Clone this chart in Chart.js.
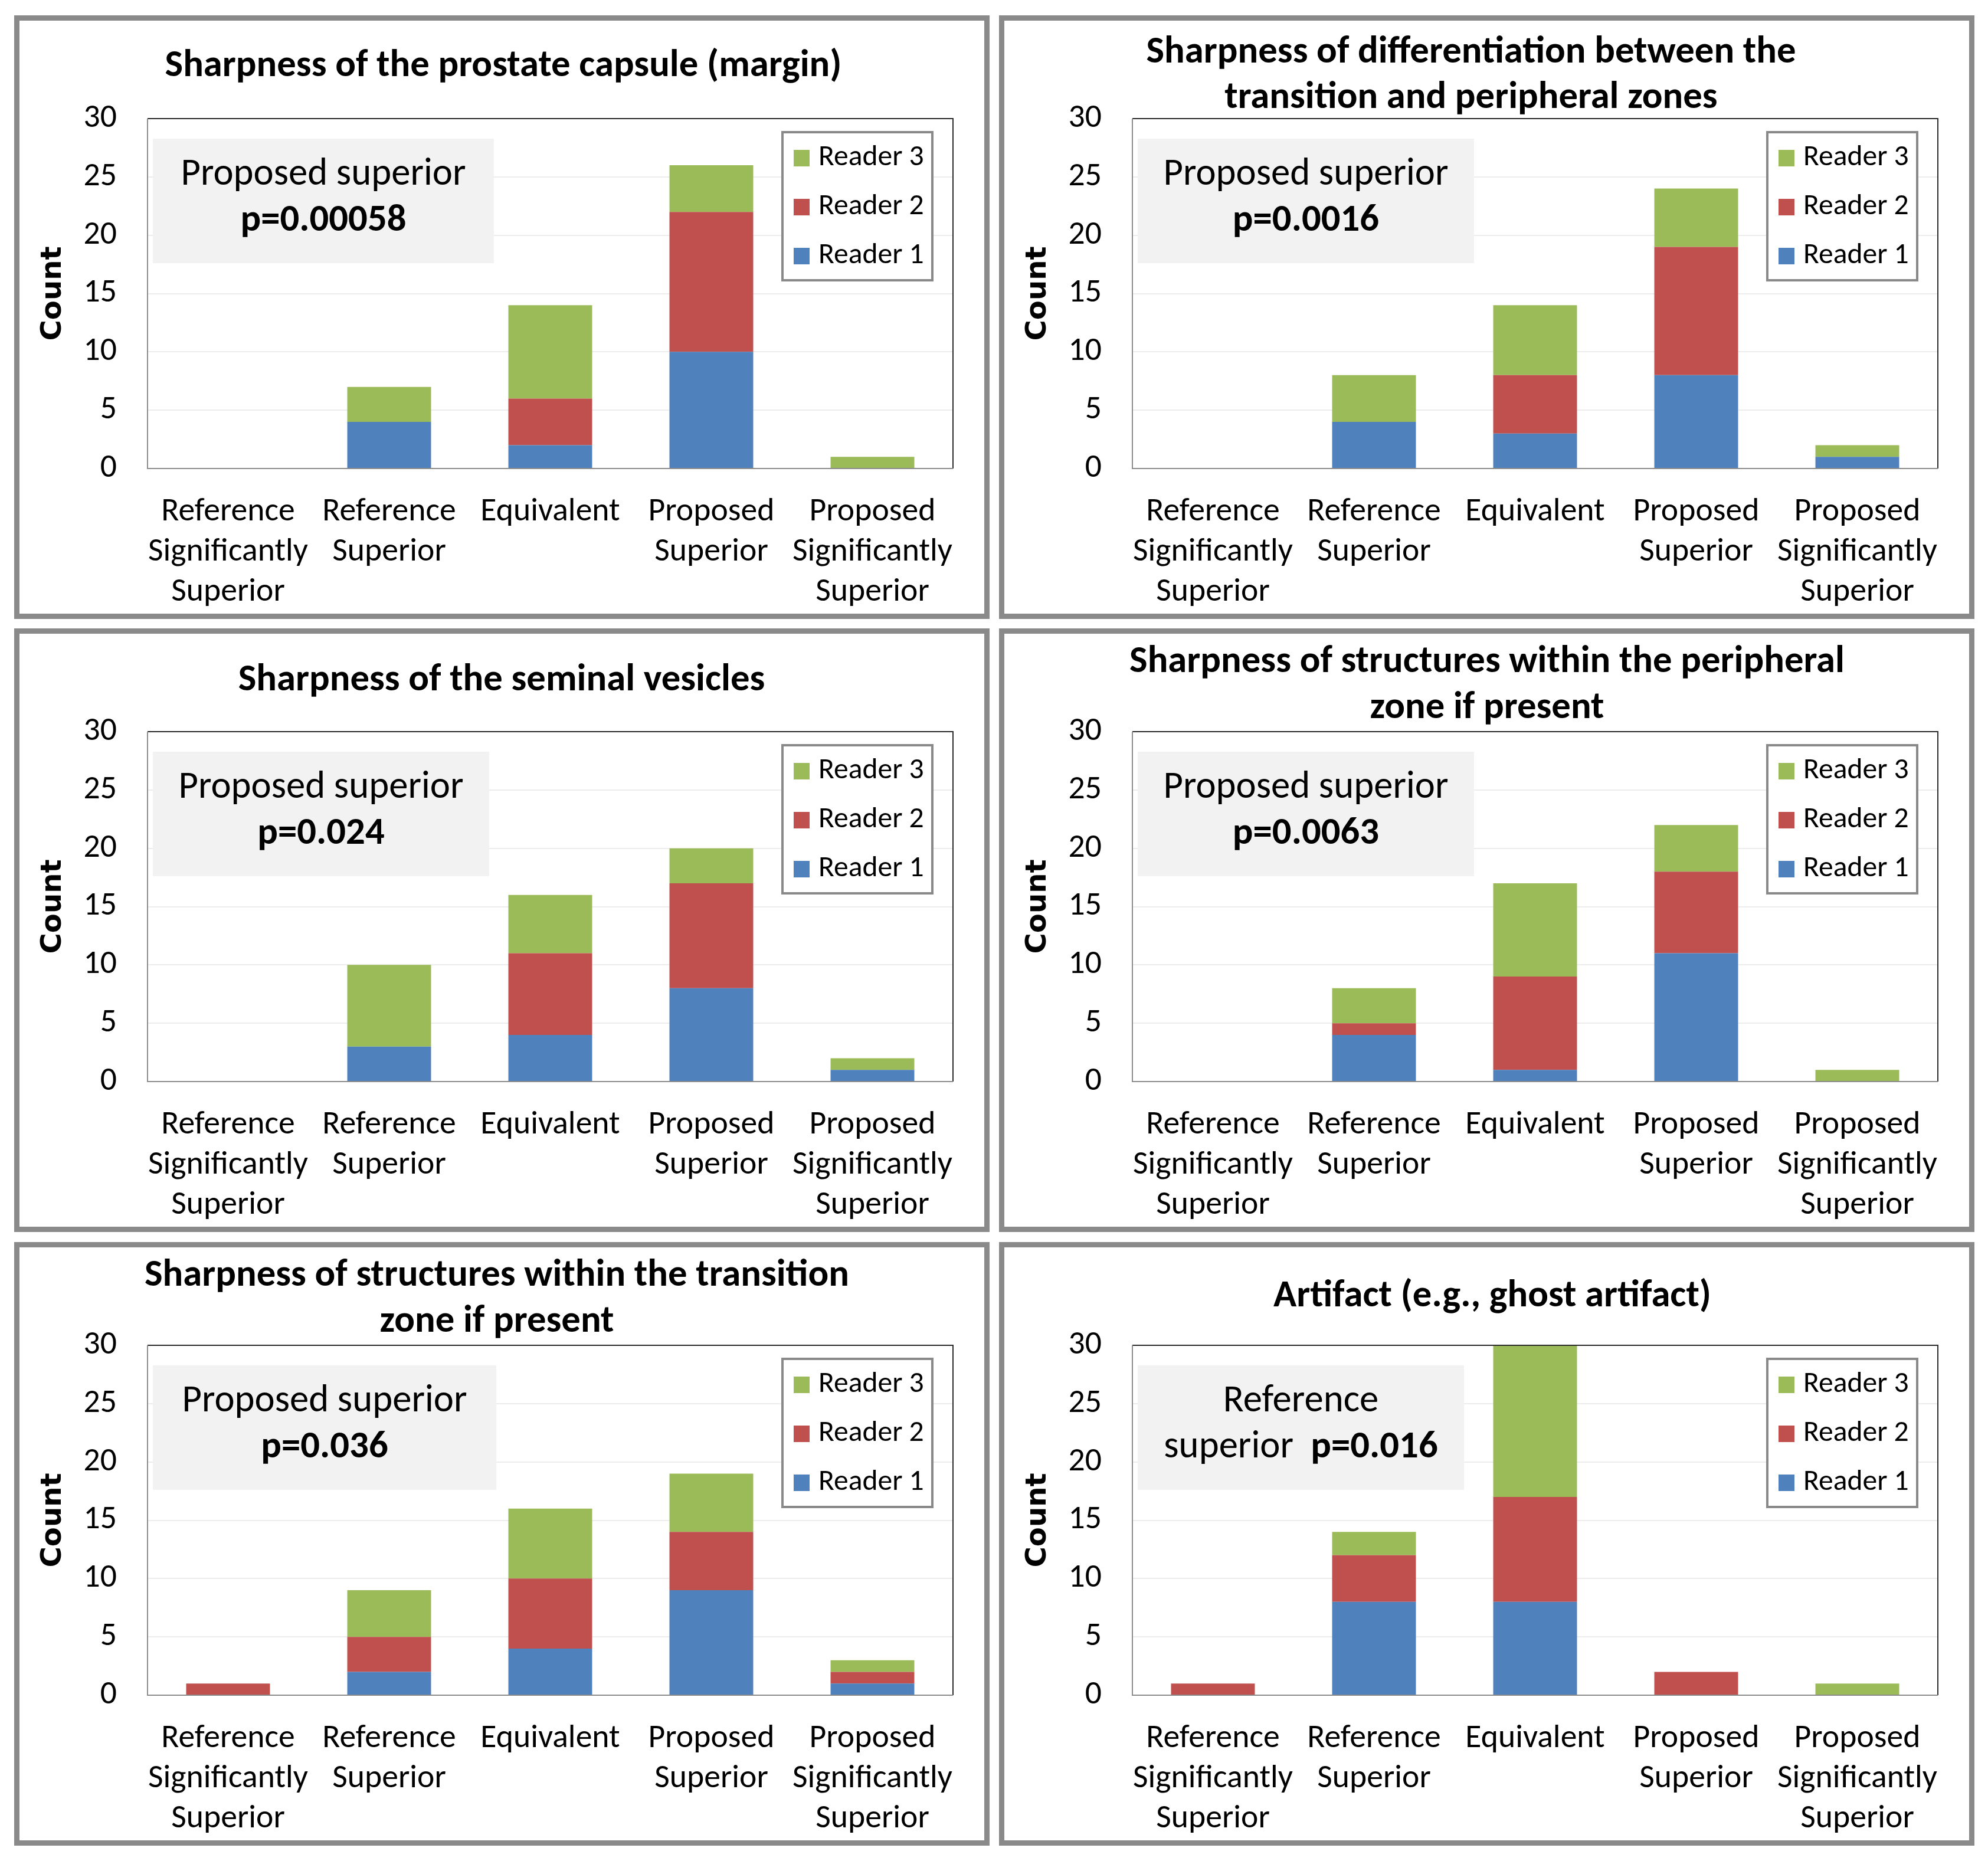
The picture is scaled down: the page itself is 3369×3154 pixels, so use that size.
<!DOCTYPE html>
<html><head><meta charset="utf-8">
<script src="https://cdn.jsdelivr.net/npm/chart.js@4.4.1/dist/chart.umd.min.js"></script>
<style>
html,body{margin:0;padding:0;background:#fff;}
body{width:3369px;height:3154px;position:relative;overflow:hidden;}
.panel{position:absolute;width:1653px;height:1023px;}
.panel canvas{position:absolute;left:0;top:0;}
.frame{position:absolute;left:0;top:0;width:1653px;height:1023px;border:9px solid #8a8a8a;box-sizing:border-box;pointer-events:none;}
</style></head><body>
<script>
// ---------- data ----------
const categories = [
  ['Reference','Significantly','Superior'],
  ['Reference','Superior'],
  ['Equivalent'],
  ['Proposed','Superior'],
  ['Proposed','Significantly','Superior']
];
const seriesNames = ['Reader 1','Reader 2','Reader 3'];
const yTickValues = [0,5,10,15,20,25,30];

const capsuleTitle = ['Sharpness of the prostate capsule (margin)'];
const capsuleReader1 = [0,4,2,10,0];
const capsuleReader2 = [0,0,4,12,0];
const capsuleReader3 = [0,3,8,4,1];
const capsuleNote = [[['Proposed superior',false]],[['p=0.00058',true]]];

const zonesTitle = ['Sharpness of differentiation between the','transition and peripheral zones'];
const zonesReader1 = [0,4,3,8,1];
const zonesReader2 = [0,0,5,11,0];
const zonesReader3 = [0,4,6,5,1];
const zonesNote = [[['Proposed superior',false]],[['p=0.0016',true]]];

const vesiclesTitle = ['Sharpness of the seminal vesicles'];
const vesiclesReader1 = [0,3,4,8,1];
const vesiclesReader2 = [0,0,7,9,0];
const vesiclesReader3 = [0,7,5,3,1];
const vesiclesNote = [[['Proposed superior',false]],[['p=0.024',true]]];

const peripheralTitle = ['Sharpness of structures within the peripheral','zone if present'];
const peripheralReader1 = [0,4,1,11,0];
const peripheralReader2 = [0,1,8,7,0];
const peripheralReader3 = [0,3,8,4,1];
const peripheralNote = [[['Proposed superior',false]],[['p=0.0063',true]]];

const transitionTitle = ['Sharpness of structures within the transition','zone if present'];
const transitionReader1 = [0,2,4,9,1];
const transitionReader2 = [1,3,6,5,1];
const transitionReader3 = [0,4,6,5,1];
const transitionNote = [[['Proposed superior',false]],[['p=0.036',true]]];

const artifactTitle = ['Artifact (e.g., ghost artifact)'];
const artifactReader1 = [0,8,8,0,0];
const artifactReader2 = [1,4,9,2,0];
const artifactReader3 = [0,2,13,0,1];
const artifactNote = [[['Reference',false]],[['superior  ',false],['p=0.016',true]]];

// ---------- style / layout ----------
const COLORS = ['#4F81BD','#C0504D','#9BBB59'];
const F = 'Carlito, Calibri, Lato, "Open Sans", sans-serif';
const W = 1653, H = 1023;
const PLOT = {left:226, right:1591, top:175, bottom:768};

const mctx = document.createElement('canvas').getContext('2d');
function clamp(v){return Math.max(0.75, Math.min(1.15, v));}
mctx.font = `55px ${F}`;
const rN = clamp(271 / mctx.measureText('Significantly').width);
mctx.font = `bold 64px ${F}`;
const rB = clamp(1147 / mctx.measureText('Sharpness of the prostate capsule (margin)').width);
mctx.font = 'bold 48px "DejaVu Sans"';
const rC = clamp(160 / mctx.measureText('Count').width);

const TICK = 55 * rN, LEG = 49 * rN, NOTE = 64 * rN, NOTEB = 64 * rB, TITLE = 64 * rB, COUNT = 48 * rC;

const panels = [
  {left:24,   top:26,   title:capsuleTitle,    tx:829, ty:[87],     s:[capsuleReader1,capsuleReader2,capsuleReader3],          note:capsuleNote,    boxW:578},
  {left:1693, top:26,   title:zonesTitle,      tx:800, ty:[64,141], s:[zonesReader1,zonesReader2,zonesReader3],                note:zonesNote,      boxW:570},
  {left:24,   top:1065, title:vesiclesTitle,   tx:826, ty:[89],     s:[vesiclesReader1,vesiclesReader2,vesiclesReader3],       note:vesiclesNote,   boxW:570},
  {left:1693, top:1065, title:peripheralTitle, tx:827, ty:[58,136], s:[peripheralReader1,peripheralReader2,peripheralReader3], note:peripheralNote, boxW:570},
  {left:24,   top:2105, title:transitionTitle, tx:818, ty:[58,136], s:[transitionReader1,transitionReader2,transitionReader3], note:transitionNote, boxW:582},
  {left:1693, top:2105, title:artifactTitle,   tx:836, ty:[93],     s:[artifactReader1,artifactReader2,artifactReader3],       note:artifactNote,   boxW:553}
];

const decor = {
  id:'decor',
  afterDatasetsDraw(chart){
    const ctx = chart.ctx, a = chart.chartArea;
    ctx.save();
    ctx.lineWidth = 2;
    ctx.strokeStyle = '#2b2b2b';
    ctx.beginPath();
    ctx.moveTo(a.left, a.top); ctx.lineTo(a.right, a.top); ctx.lineTo(a.right, a.bottom);
    ctx.stroke();
    ctx.strokeStyle = '#8c8c8c';
    ctx.beginPath();
    ctx.moveTo(a.left, a.top); ctx.lineTo(a.left, a.bottom); ctx.lineTo(a.right, a.bottom);
    ctx.stroke();
    ctx.restore();
  },
  afterDraw(chart){
    const ctx = chart.ctx, p = chart.options.plugins.decor;
    ctx.save();
    ctx.fillStyle = '#000';
    ctx.textAlign = 'center';
    ctx.textBaseline = 'middle';
    // title
    ctx.font = `bold ${TITLE}px ${F}`;
    p.title.forEach((t,i)=>ctx.fillText(t, p.tx, p.ty[i]));
    // annotation box
    const bx = 235, by = 209, bw = p.boxW, bh = 211;
    ctx.fillStyle = '#F2F2F2';
    ctx.fillRect(bx, by, bw, bh);
    ctx.fillStyle = '#000';
    const lineY = [by + 62, by + 140];
    p.note.forEach((segs, li) => {
      let total = 0;
      const widths = segs.map(([t,b]) => { ctx.font = b ? `bold ${NOTEB}px ${F}` : `${NOTE}px ${F}`; const w = ctx.measureText(t).width; total += w; return w; });
      let x = bx + bw/2 - total/2;
      ctx.textAlign = 'left';
      segs.forEach(([t,b], k) => { ctx.font = b ? `bold ${NOTEB}px ${F}` : `${NOTE}px ${F}`; ctx.fillText(t, x, lineY[li]); x += widths[k]; });
    });
    // legend
    const lx = 1302, ly = 198, lw = 254, lh = 251;
    ctx.fillStyle = '#fff';
    ctx.fillRect(lx, ly, lw, lh);
    ctx.lineWidth = 4;
    ctx.strokeStyle = '#898989';
    ctx.strokeRect(lx, ly, lw, lh);
    const ds = chart.data.datasets.slice().reverse();
    ctx.font = `${LEG}px ${F}`;
    ctx.textAlign = 'left';
    ds.forEach((d, i) => {
      const cy = ly + 44 + i * 83;
      ctx.fillStyle = d.backgroundColor;
      ctx.fillRect(lx + 19, cy - 14, 27, 28);
      ctx.fillStyle = '#000';
      ctx.fillText(d.label, lx + 61, cy);
    });
    ctx.restore();
  }
};

panels.forEach((p) => {
  const div = document.createElement('div');
  div.className = 'panel';
  div.style.left = p.left + 'px';
  div.style.top = p.top + 'px';
  const cv = document.createElement('canvas');
  cv.width = W; cv.height = H;
  cv.style.width = W + 'px'; cv.style.height = H + 'px';
  div.appendChild(cv);
  const fr = document.createElement('div');
  fr.className = 'frame';
  div.appendChild(fr);
  document.body.appendChild(div);

  const tickLH = TICK * 1.22;
  new Chart(cv, {
    type:'bar',
    data:{
      labels:categories,
      datasets: seriesNames.map((n,i)=>({
        label:n, data:p.s[i], backgroundColor:COLORS[i], borderWidth:0,
        barPercentage:0.52, categoryPercentage:1
      }))
    },
    options:{
      responsive:false, animation:false, devicePixelRatio:1,
      layout:{padding:{top:PLOT.top, right:W - PLOT.right, bottom:0, left:0}},
      plugins:{
        legend:{display:false}, title:{display:false}, tooltip:{enabled:false},
        decor:{title:p.title, tx:p.tx, ty:p.ty, note:p.note, boxW:p.boxW}
      },
      scales:{
        x:{
          stacked:true,
          grid:{display:false, drawTicks:false, tickLength:0},
          border:{display:false},
          ticks:{color:'#000', font:{family:F, size:TICK, lineHeight:1.22}, padding: 842 - PLOT.bottom - tickLH/2, maxRotation:0, minRotation:0, autoSkip:false},
          afterFit(s){ s.height = H - PLOT.bottom; }
        },
        y:{
          stacked:true, min:0, max:30,
          afterBuildTicks(s){ s.ticks = yTickValues.map(v=>({value:v})); },
          ticks:{color:'#000', font:{family:F, size:TICK}, padding:52},
          grid:{color:'#EDEDED', lineWidth:2, drawTicks:false, tickLength:0},
          border:{display:false},
          title:{display:true, text:'Count', color:'#000', font:{family:'"DejaVu Sans"', weight:'bold', size:COUNT, lineHeight:1.2}, padding:{top:66 - COUNT*0.6, bottom:0}},
          afterFit(s){ s.width = PLOT.left; }
        }
      }
    },
    plugins:[decor]
  });
});
</script>
</body></html>
